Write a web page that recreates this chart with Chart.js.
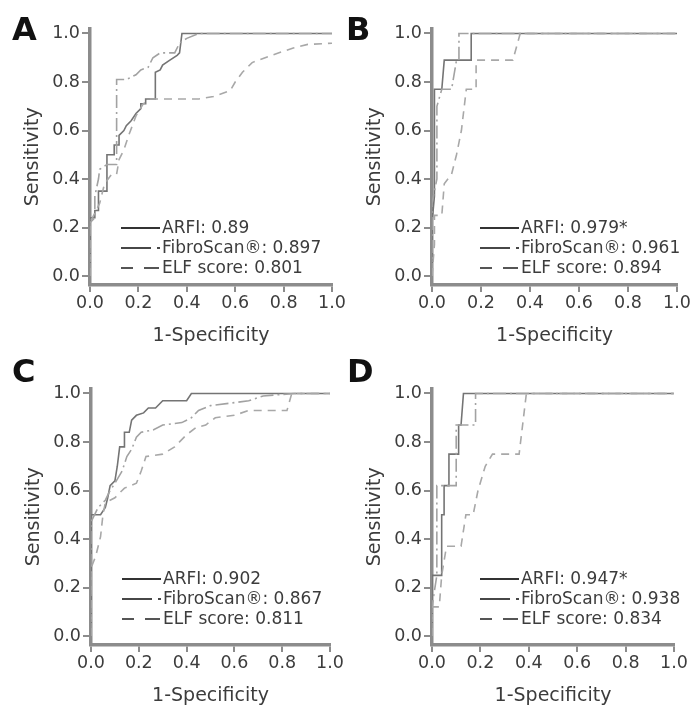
<!DOCTYPE html>
<html>
<head>
<meta charset="utf-8">
<script src="https://cdn.jsdelivr.net/npm/chart.js@4.4.1/dist/chart.umd.min.js"></script>
<style>
    body { margin: 0; background: #fff; width: 693px; height: 707px; position: relative; overflow: hidden; }
    canvas { position: absolute; }
    .letter { position: absolute; font: bold 32px "DejaVu Sans", sans-serif; color: #111; line-height: 1; }
</style>
</head>
<body>
<script>
// Panel letters, series names and AUC values
const panelLetters = ['A', 'B', 'C', 'D'];
const seriesNames = ['ARFI', 'FibroScan®', 'ELF score'];
const aucA = ['0.89', '0.897', '0.801'];
const aucB = ['0.979*', '0.961', '0.894'];
const aucC = ['0.902', '0.867', '0.811'];
const aucD = ['0.947*', '0.938', '0.834'];

// Axis ticks
const tickValues = [0, 0.2, 0.4, 0.6, 0.8, 1.0];

// ROC points [1-specificity, sensitivity]
const arfiA = [[0,0],[0,0.24],[0.02,0.24],[0.02,0.27],[0.035,0.27],[0.035,0.35],[0.07,0.35],[0.07,0.5],[0.1,0.5],[0.1,0.54],[0.12,0.54],[0.12,0.58],[0.14,0.6],[0.15,0.62],[0.17,0.64],[0.19,0.67],[0.21,0.69],[0.21,0.71],[0.23,0.71],[0.23,0.73],[0.27,0.73],[0.27,0.84],[0.29,0.85],[0.3,0.87],[0.33,0.89],[0.36,0.91],[0.37,0.92],[0.38,1],[1,1]];
const fibroA = [[0,0],[0,0.22],[0.02,0.24],[0.02,0.33],[0.035,0.4],[0.04,0.44],[0.07,0.46],[0.11,0.46],[0.11,0.81],[0.15,0.81],[0.17,0.82],[0.19,0.83],[0.21,0.85],[0.24,0.86],[0.26,0.9],[0.29,0.92],[0.35,0.92],[0.37,0.96],[0.4,0.98],[0.45,1],[1,1]];
const elfA = [[0,0],[0,0.22],[0.02,0.26],[0.04,0.3],[0.06,0.38],[0.09,0.42],[0.11,0.42],[0.12,0.48],[0.14,0.52],[0.16,0.58],[0.19,0.66],[0.22,0.71],[0.25,0.73],[0.45,0.73],[0.51,0.74],[0.58,0.765],[0.6,0.8],[0.63,0.84],[0.67,0.88],[0.75,0.91],[0.84,0.94],[0.9,0.955],[1,0.96]];

const arfiB = [[0,0],[0,0.22],[0.01,0.33],[0.01,0.77],[0.04,0.77],[0.05,0.89],[0.16,0.89],[0.16,1.0],[1,1.0]];
const fibroB = [[0,0],[0,0.3],[0.02,0.4],[0.02,0.7],[0.04,0.77],[0.08,0.77],[0.1,0.89],[0.11,0.89],[0.11,1.0],[1,1.0]];
const elfB = [[0,0],[0.01,0.13],[0.01,0.25],[0.04,0.25],[0.05,0.38],[0.08,0.42],[0.1,0.5],[0.12,0.6],[0.14,0.77],[0.18,0.77],[0.18,0.89],[0.33,0.89],[0.36,1.0],[1,1.0]];

const arfiC = [[0,0],[0,0.5],[0.04,0.5],[0.06,0.53],[0.07,0.57],[0.08,0.62],[0.1,0.64],[0.11,0.7],[0.12,0.78],[0.14,0.78],[0.14,0.84],[0.16,0.84],[0.17,0.89],[0.19,0.91],[0.22,0.92],[0.24,0.94],[0.27,0.94],[0.3,0.97],[0.4,0.97],[0.42,1.0],[1,1]];
const fibroC = [[0,0],[0,0.47],[0.03,0.53],[0.06,0.56],[0.08,0.6],[0.1,0.63],[0.13,0.68],[0.15,0.74],[0.17,0.77],[0.19,0.82],[0.21,0.84],[0.26,0.85],[0.3,0.87],[0.38,0.88],[0.42,0.9],[0.45,0.93],[0.5,0.95],[0.58,0.96],[0.66,0.97],[0.72,0.99],[0.85,1.0],[1,1]];
const elfC = [[0,0],[0,0.28],[0.02,0.33],[0.04,0.41],[0.05,0.5],[0.06,0.55],[0.1,0.57],[0.14,0.61],[0.19,0.63],[0.21,0.68],[0.23,0.74],[0.3,0.75],[0.35,0.78],[0.4,0.83],[0.44,0.86],[0.48,0.87],[0.52,0.9],[0.6,0.91],[0.66,0.93],[0.82,0.93],[0.84,1.0],[1,1]];

const arfiD = [[0,0],[0,0.25],[0.04,0.25],[0.04,0.5],[0.05,0.5],[0.05,0.62],[0.07,0.62],[0.07,0.75],[0.11,0.75],[0.11,0.87],[0.12,0.87],[0.13,1.0],[1,1]];
const fibroD = [[0,0],[0,0.12],[0.02,0.25],[0.02,0.62],[0.06,0.62],[0.1,0.62],[0.1,0.87],[0.18,0.87],[0.18,1.0],[1,1]];
const elfD = [[0,0],[0,0.12],[0.03,0.12],[0.04,0.25],[0.06,0.37],[0.12,0.37],[0.14,0.5],[0.17,0.5],[0.19,0.6],[0.22,0.7],[0.25,0.75],[0.36,0.75],[0.39,1.0],[1,1]];

// Page geometry of each panel: x of 0 and 1, y of 0 and 1, x-axis line, legend spot, letter spot
const panels = [
    { data: [arfiA, fibroA, elfA], auc: aucA, x0: 90, x1: 332, y0: 276, y1: 33, axisY: 285, lx: 121, ly: 228, letterX: 12, letterY: 13 },
    { data: [arfiB, fibroB, elfB], auc: aucB, x0: 432, x1: 677, y0: 276, y1: 33, axisY: 285, lx: 480, ly: 228, letterX: 346, letterY: 13 },
    { data: [arfiC, fibroC, elfC], auc: aucC, x0: 91, x1: 330, y0: 636, y1: 393, axisY: 645, lx: 122, ly: 579, letterX: 12, letterY: 355 },
    { data: [arfiD, fibroD, elfD], auc: aucD, x0: 432, x1: 674, y0: 636, y1: 393, axisY: 645, lx: 480, ly: 579, letterX: 347, letterY: 355 }
];

const lineColors = ['#747474', '#a2a2a2', '#a8a8a8'];
const lineDashes = [[], [13, 4, 2, 4], [8, 6]];
const legendColors = ['#333333', '#474747', '#555555'];
const legendDashes = [[], [30, 6, 3, 99], [12, 11, 15, 99]];

const AXIS_W = 90, AXIS_H = 65, PAD_T = 12, PAD_R = 18, TOP_GAP = 5;
const axisGrey = '#8c8c8c';
const textGrey = '#3c3c3c';

// Draws the little legend inside each plot
const rocLegend = {
    id: 'rocLegend',
    afterDatasetsDraw(chart, args, opts) {
        const ctx = chart.ctx;
        ctx.save();
        opts.items.forEach((text, i) => {
            const y = opts.y + i * 20;
            ctx.strokeStyle = legendColors[i];
            ctx.lineWidth = 2;
            ctx.setLineDash(legendDashes[i]);
            ctx.beginPath();
            ctx.moveTo(opts.x, y);
            ctx.lineTo(opts.x + 39, y);
            ctx.stroke();
            ctx.setLineDash([]);
            ctx.fillStyle = textGrey;
            ctx.font = '17px "DejaVu Sans"';
            ctx.textBaseline = 'middle';
            ctx.fillText(text, opts.x + 41, y + 1);
        });
        ctx.restore();
    }
};

panels.forEach((p, idx) => {
    const top = p.y1 - TOP_GAP;
    const unit = p.y0 - p.y1;
    const yMin = -(p.axisY - p.y0) / unit;
    const yMax = 1 + TOP_GAP / unit;

    const canvas = document.createElement('canvas');
    const left = p.x0 - AXIS_W;
    const ctop = top - PAD_T;
    canvas.width = AXIS_W + (p.x1 - p.x0) + PAD_R;
    canvas.height = PAD_T + (p.axisY - top) + AXIS_H;
    canvas.style.left = left + 'px';
    canvas.style.top = ctop + 'px';
    document.body.appendChild(canvas);

    const letter = document.createElement('div');
    letter.className = 'letter';
    letter.textContent = panelLetters[idx];
    letter.style.left = p.letterX + 'px';
    letter.style.top = p.letterY + 'px';
    document.body.appendChild(letter);

    const datasets = p.data.map((pts, i) => ({
        label: seriesNames[i],
        data: pts.map(d => ({ x: d[0], y: d[1] })),
        showLine: true,
        borderColor: lineColors[i],
        borderWidth: 1.6,
        borderDash: lineDashes[i],
        pointRadius: 0,
        fill: false,
        tension: 0
    })).reverse();

    new Chart(canvas, {
        type: 'scatter',
        data: { datasets: datasets },
        options: {
            responsive: false,
            devicePixelRatio: 1,
            animation: false,
            layout: { padding: { top: PAD_T, right: PAD_R, left: 0, bottom: 0 } },
            plugins: {
                legend: { display: false },
                tooltip: { enabled: false },
                rocLegend: {
                    x: p.lx - left,
                    y: p.ly - ctop,
                    items: seriesNames.map((n, i) => n + ': ' + p.auc[i])
                }
            },
            scales: {
                x: {
                    type: 'linear',
                    min: 0,
                    max: 1,
                    afterBuildTicks: s => { s.ticks = tickValues.map(v => ({ value: v })); },
                    afterFit: s => { s.height = AXIS_H; },
                    grid: { drawOnChartArea: false, drawTicks: true, tickLength: 7, color: axisGrey, lineWidth: 2 },
                    border: { display: true, color: axisGrey, width: 3.5 },
                    ticks: { color: textGrey, font: { family: 'DejaVu Sans', size: 17.5 }, padding: 1, maxRotation: 0, callback: v => v.toFixed(1) },
                    title: { display: true, text: '1-Specificity', color: textGrey, font: { family: 'DejaVu Sans', size: 19 }, padding: { top: 0, bottom: 3 } }
                },
                y: {
                    type: 'linear',
                    min: yMin,
                    max: yMax,
                    afterBuildTicks: s => { s.ticks = tickValues.map(v => ({ value: v })); },
                    afterFit: s => { s.width = AXIS_W; },
                    grid: { drawOnChartArea: false, drawTicks: true, tickLength: 8, color: axisGrey, lineWidth: 2 },
                    border: { display: true, color: axisGrey, width: 3.5 },
                    ticks: { color: textGrey, font: { family: 'DejaVu Sans', size: 17.5 }, padding: 2, callback: v => v.toFixed(1) },
                    title: { display: true, text: 'Sensitivity', color: textGrey, font: { family: 'DejaVu Sans', size: 19 }, padding: { top: 22, bottom: 0 } }
                }
            }
        },
        plugins: [rocLegend]
    });
});
</script>
</body>
</html>
